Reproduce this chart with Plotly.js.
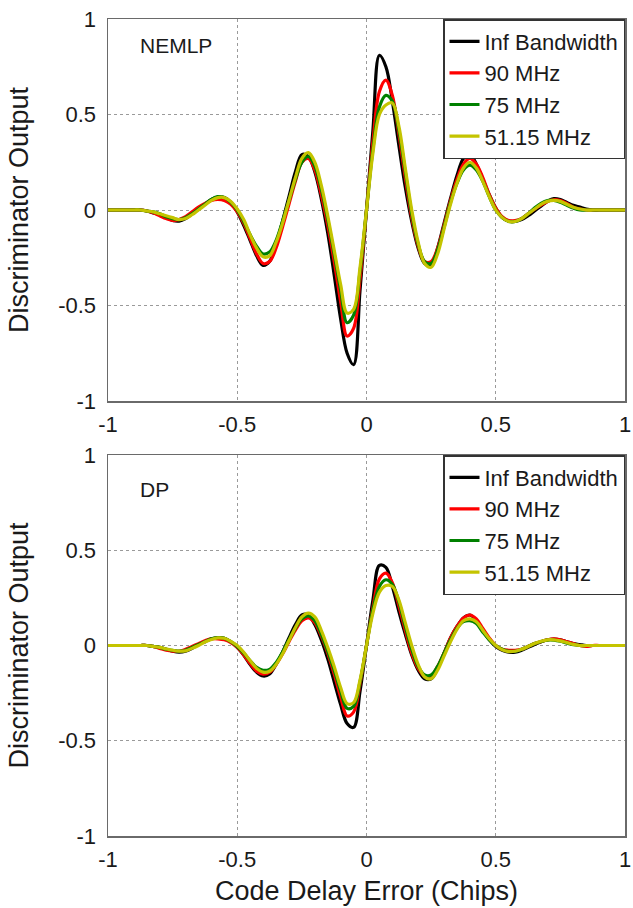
<!DOCTYPE html>
<html>
<head>
<meta charset="utf-8">
<script src="https://cdn.plot.ly/plotly-3.0.1.min.js"></script>
<style>html,body{margin:0;padding:0;background:#fff;}#chart{width:633px;height:908px;}</style>
</head>
<body>
<div id="chart"></div>
<script>
// Code delay error (chips)
const codeDelay = [-1,-0.975,-0.95,-0.925,-0.9,-0.875,-0.85,-0.825,-0.8,-0.775,-0.75,-0.725,-0.7,-0.675,-0.65,-0.625,-0.6,-0.575,-0.55,-0.525,-0.5,-0.475,-0.45,-0.425,-0.4,-0.375,-0.35,-0.325,-0.3,-0.275,-0.25,-0.225,-0.2,-0.175,-0.15,-0.125,-0.1,-0.075,-0.05,-0.025,0,0.025,0.05,0.075,0.1,0.125,0.15,0.175,0.2,0.225,0.25,0.275,0.3,0.325,0.35,0.375,0.4,0.425,0.45,0.475,0.5,0.525,0.55,0.575,0.6,0.625,0.65,0.675,0.7,0.725,0.75,0.775,0.8,0.825,0.85,0.875,0.9,0.925,0.95,0.975,1];

const seriesNames = ["Inf Bandwidth", "90 MHz", "75 MHz", "51.15 MHz"];

// NEMLP panel
const nemlpInf = [0,0,0,0,0,0,-0.005,-0.015,-0.025,-0.04,-0.055,-0.058,-0.045,-0.02,0.005,0.03,0.055,0.068,0.065,0.04,-0.01,-0.08,-0.16,-0.24,-0.29,-0.27,-0.18,-0.06,0.07,0.2,0.29,0.28,0.2,0.06,-0.12,-0.34,-0.57,-0.75,-0.81,-0.42,0,0.42,0.81,0.75,0.57,0.34,0.12,-0.06,-0.2,-0.28,-0.29,-0.2,-0.07,0.06,0.18,0.27,0.29,0.24,0.16,0.08,0.01,-0.04,-0.058,-0.06,-0.05,-0.03,-0.005,0.02,0.045,0.06,0.055,0.04,0.025,0.015,0.005,0,0,0,0,0,0];
const nemlp90 = [0,0,0,0,0,0,-0.005,-0.015,-0.03,-0.045,-0.055,-0.05,-0.035,-0.01,0.015,0.035,0.05,0.055,0.05,0.03,-0.01,-0.07,-0.15,-0.23,-0.28,-0.27,-0.2,-0.09,0.03,0.15,0.25,0.27,0.21,0.08,-0.08,-0.27,-0.48,-0.66,-0.62,-0.36,0,0.36,0.62,0.68,0.6,0.4,0.17,-0.04,-0.19,-0.27,-0.27,-0.2,-0.08,0.05,0.16,0.24,0.27,0.24,0.17,0.08,0.01,-0.035,-0.055,-0.055,-0.045,-0.02,0.005,0.025,0.045,0.055,0.05,0.035,0.015,0.005,0,0,0,0,0,0,0];
const nemlp75 = [0,0,0,0,0,0,-0.005,-0.01,-0.02,-0.035,-0.045,-0.05,-0.04,-0.02,0.005,0.03,0.055,0.07,0.065,0.04,0,-0.06,-0.13,-0.19,-0.23,-0.22,-0.16,-0.06,0.05,0.16,0.25,0.28,0.23,0.11,-0.05,-0.23,-0.42,-0.59,-0.55,-0.32,0,0.32,0.54,0.6,0.57,0.42,0.2,-0.02,-0.18,-0.27,-0.28,-0.21,-0.09,0.04,0.14,0.21,0.235,0.21,0.15,0.07,0,-0.04,-0.06,-0.06,-0.045,-0.02,0.01,0.035,0.05,0.05,0.04,0.025,0.01,0,0,0,0,0,0,0,0];
const nemlp51 = [0,0,0,0,0,0,-0.005,-0.01,-0.02,-0.03,-0.04,-0.05,-0.045,-0.025,0,0.025,0.05,0.065,0.065,0.045,0.005,-0.05,-0.13,-0.2,-0.245,-0.24,-0.17,-0.07,0.05,0.17,0.27,0.3,0.25,0.13,-0.03,-0.21,-0.39,-0.54,-0.52,-0.3,0,0.3,0.5,0.55,0.56,0.44,0.22,0,-0.17,-0.28,-0.3,-0.23,-0.1,0.03,0.14,0.22,0.25,0.22,0.15,0.07,0,-0.04,-0.06,-0.06,-0.045,-0.02,0.005,0.03,0.045,0.05,0.045,0.03,0.015,0.005,0,0,0,0,0,0,0];

// DP panel
const dpInf = [0,0,0,0,0,0,0,-0.005,-0.01,-0.02,-0.03,-0.035,-0.03,-0.015,0.005,0.02,0.035,0.042,0.038,0.02,-0.01,-0.05,-0.1,-0.14,-0.16,-0.15,-0.1,-0.035,0.04,0.11,0.16,0.16,0.11,0.03,-0.07,-0.19,-0.31,-0.41,-0.43,-0.24,0,0.24,0.42,0.41,0.31,0.18,0.06,-0.05,-0.13,-0.175,-0.175,-0.12,-0.04,0.04,0.1,0.145,0.16,0.13,0.08,0.03,-0.005,-0.025,-0.035,-0.035,-0.025,-0.01,0.005,0.02,0.03,0.034,0.03,0.02,0.01,0.005,0,0,0,0,0,0,0];
const dp90 = [0,0,0,0,0,0,0,-0.005,-0.015,-0.025,-0.03,-0.03,-0.02,-0.005,0.01,0.025,0.035,0.035,0.03,0.015,-0.01,-0.05,-0.095,-0.135,-0.15,-0.14,-0.1,-0.045,0.02,0.08,0.13,0.145,0.12,0.05,-0.04,-0.15,-0.27,-0.37,-0.35,-0.2,0,0.2,0.35,0.38,0.33,0.21,0.08,-0.04,-0.12,-0.16,-0.16,-0.11,-0.04,0.04,0.1,0.145,0.16,0.14,0.09,0.04,0,-0.02,-0.025,-0.025,-0.02,-0.005,0.01,0.02,0.03,0.035,0.03,0.02,0.01,0,-0.005,0,0,0,0,0,0];
const dp75 = [0,0,0,0,0,0,0,-0.005,-0.01,-0.02,-0.025,-0.03,-0.025,-0.01,0.005,0.02,0.035,0.042,0.038,0.02,-0.005,-0.04,-0.08,-0.115,-0.13,-0.125,-0.09,-0.035,0.03,0.09,0.14,0.155,0.13,0.06,-0.03,-0.13,-0.24,-0.33,-0.32,-0.19,0,0.19,0.31,0.345,0.32,0.23,0.1,-0.02,-0.11,-0.155,-0.155,-0.11,-0.04,0.03,0.09,0.125,0.13,0.115,0.07,0.03,0,-0.02,-0.03,-0.03,-0.02,-0.005,0.01,0.02,0.028,0.028,0.022,0.012,0.005,0,0,0,0,0,0,0,0];
const dp51 = [0,0,0,0,0,0,0,-0.005,-0.01,-0.018,-0.025,-0.03,-0.028,-0.015,0,0.018,0.032,0.04,0.038,0.022,0,-0.035,-0.08,-0.12,-0.14,-0.135,-0.1,-0.045,0.025,0.095,0.15,0.17,0.15,0.08,-0.01,-0.11,-0.22,-0.305,-0.3,-0.18,0,0.17,0.28,0.315,0.31,0.24,0.12,0,-0.1,-0.165,-0.175,-0.13,-0.055,0.02,0.085,0.13,0.14,0.125,0.08,0.035,0,-0.022,-0.032,-0.03,-0.02,-0.005,0.01,0.022,0.03,0.03,0.024,0.015,0.006,0,0,0,0,0,0,0,0];

const axisTicks = [-1, -0.5, 0, 0.5, 1];
const axisTickText = ["-1", "-0.5", "0", "0.5", "1"];
const panelLabels = ["NEMLP", "DP"];

const colors = ["#000000", "#ff0000", "#008000", "#c4c400"];
const FONT = "Liberation Sans, Arial, Helvetica, sans-serif";

const topSeries = [nemlpInf, nemlp90, nemlp75, nemlp51];
const botSeries = [dpInf, dp90, dp75, dp51];

const traces = [];
topSeries.forEach((ys, i) => traces.push({
  x: codeDelay, y: ys, name: seriesNames[i], type: "scatter", mode: "lines",
  line: {color: colors[i], width: 3.2, shape: "spline", smoothing: 1},
  xaxis: "x", yaxis: "y", legend: "legend"
}));
botSeries.forEach((ys, i) => traces.push({
  x: codeDelay, y: ys, name: seriesNames[i], type: "scatter", mode: "lines",
  line: {color: colors[i], width: 3.2, shape: "spline", smoothing: 1},
  xaxis: "x2", yaxis: "y2", legend: "legend2"
}));

function xAx(anchor, withTitle) {
  const a = {
    domain: [0, 1], anchor: anchor, range: [-1, 1],
    tickvals: axisTicks, ticktext: axisTickText,
    showgrid: true, gridcolor: "#9a9a9a", griddash: "dot", gridwidth: 1,
    zeroline: false, showline: true, mirror: true, linecolor: "#6a6a6a", linewidth: 1.5,
    ticks: "", tickfont: {family: FONT, size: 22, color: "#1a1a1a"},
    ticklabelstandoff: 3
  };
  if (withTitle) a.title = {text: "Code Delay Error (Chips)", font: {family: FONT, size: 27, color: "#1a1a1a"}, standoff: 10};
  return a;
}
function yAx(anchor, dom) {
  return {
    domain: dom, anchor: anchor, range: [-1, 1],
    tickvals: axisTicks, ticktext: axisTickText,
    showgrid: true, gridcolor: "#9a9a9a", griddash: "dot", gridwidth: 1,
    zeroline: false, showline: true, mirror: true, linecolor: "#6a6a6a", linewidth: 1.5,
    ticks: "", tickfont: {family: FONT, size: 22, color: "#1a1a1a"},
    ticklabelstandoff: 6,
    title: {text: "Discriminator Output", font: {family: FONT, size: 27, color: "#1a1a1a"}, standoff: 21}
  };
}

const legendBase = {
  xanchor: "right", yanchor: "top", x: 1,
  bgcolor: "#ffffff", bordercolor: "#333333", borderwidth: 1.5,
  font: {family: FONT, size: 22, color: "#1a1a1a"},
  tracegroupgap: 0, itemwidth: 30
};

const H = 908;
const layout = {
  width: 633, height: 908,
  margin: {l: 108, r: 8, t: 0, b: 0},
  paper_bgcolor: "#ffffff", plot_bgcolor: "#ffffff",
  showlegend: true,
  xaxis: xAx("y", false),
  yaxis: yAx("x", [1 - 401 / H, 1 - 19 / H]),
  xaxis2: xAx("y2", true),
  yaxis2: yAx("x2", [1 - 836 / H, 1 - 455 / H]),
  legend: Object.assign({}, legendBase, {y: 1 - 19 / H}),
  legend2: Object.assign({}, legendBase, {y: 1 - 455 / H}),
  annotations: [
    {text: panelLabels[0], xref: "x", yref: "y", x: -0.885, y: 0.86, xanchor: "left", yanchor: "middle", showarrow: false, font: {family: FONT, size: 21, color: "#1a1a1a"}},
    {text: panelLabels[1], xref: "x2", yref: "y2", x: -0.885, y: 0.82, xanchor: "left", yanchor: "middle", showarrow: false, font: {family: FONT, size: 21, color: "#1a1a1a"}}
  ]
};

Plotly.newPlot("chart", traces, layout, {staticPlot: true, displayModeBar: false});
</script>
</body>
</html>
